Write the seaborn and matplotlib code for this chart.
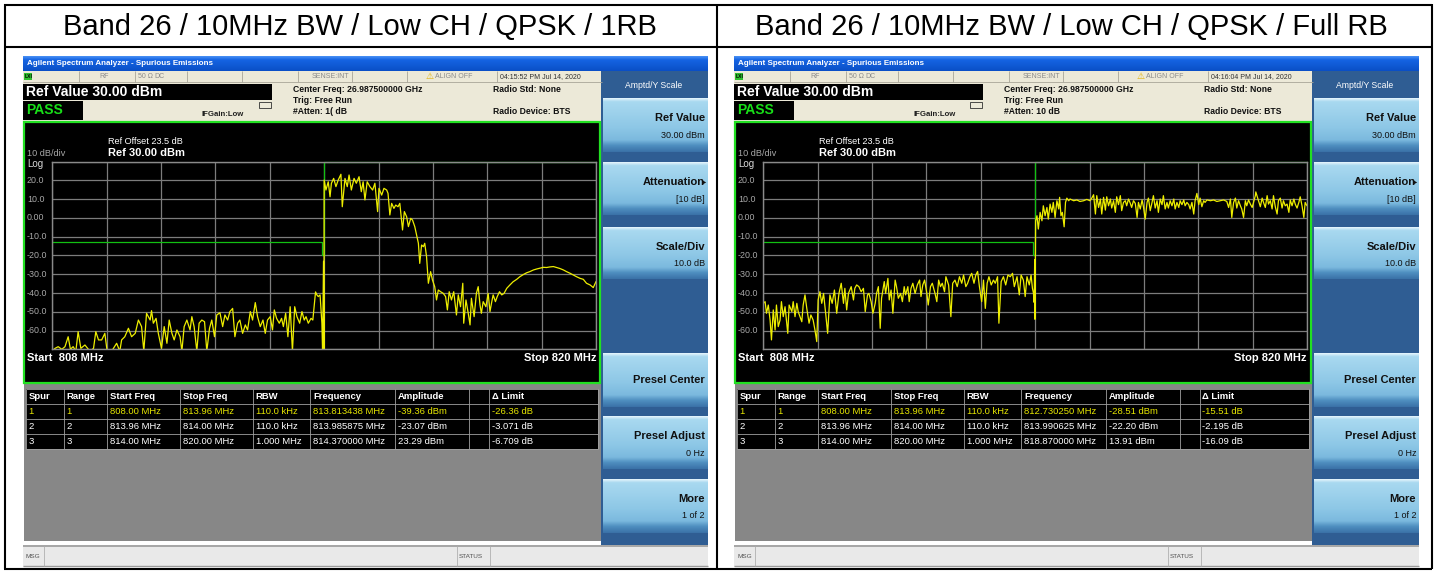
import numpy as np
import matplotlib
matplotlib.use("Agg")
import matplotlib.pyplot as plt
from matplotlib.patches import Rectangle
from matplotlib.colors import to_rgb
import seaborn as sns

sns.set_theme(style="white")
plt.rcParams["font.family"] = ["Liberation Sans", "DejaVu Sans"]

W, H = 1436, 572

# ---------------- data ----------------
titles = ["Band 26 / 10MHz BW / Low CH / QPSK / 1RB",
          "Band 26 / 10MHz BW / Low CH / QPSK / Full RB"]
timestamps = ["04:15:52 PM Jul 14, 2020", "04:16:04 PM Jul 14, 2020"]
atten_text = ["#Atten: 1( dB", "#Atten: 10 dB"]

y_labels = ["20.0", "10.0", "0.00", "-10.0", "-20.0", "-30.0", "-40.0", "-50.0", "-60.0"]
y_label_vals = [20, 10, 0, -10, -20, -30, -40, -50, -60]

# limit line (dBm) of the three spur ranges
limit_f = [808.0, 813.96, 813.96, 814.0, 814.0, 820.0]
limit_db = [-13, -13, -20, -20, 30, 30]

table_header = ["Spur", "Range", "Start Freq", "Stop Freq", "RBW", "Frequency", "Amplitude", "", "\u0394 Limit"]
rows_1rb = [
    ["1", "1", "808.00 MHz", "813.96 MHz", "110.0 kHz", "813.813438 MHz", "-39.36 dBm", "", "-26.36 dB"],
    ["2", "2", "813.96 MHz", "814.00 MHz", "110.0 kHz", "813.985875 MHz", "-23.07 dBm", "", "-3.071 dB"],
    ["3", "3", "814.00 MHz", "820.00 MHz", "1.000 MHz", "814.370000 MHz", "23.29 dBm", "", "-6.709 dB"],
]
rows_full = [
    ["1", "1", "808.00 MHz", "813.96 MHz", "110.0 kHz", "812.730250 MHz", "-28.51 dBm", "", "-15.51 dB"],
    ["2", "2", "813.96 MHz", "814.00 MHz", "110.0 kHz", "813.990625 MHz", "-22.20 dBm", "", "-2.195 dB"],
    ["3", "3", "814.00 MHz", "820.00 MHz", "1.000 MHz", "818.870000 MHz", "13.91 dBm", "", "-16.09 dB"],
]

softkeys = [("Ref Value", "30.00 dBm"), ("Attenuation", "[10 dB]"), ("Scale/Div", "10.0 dB"),
            ("Presel Center", ""), ("Presel Adjust", "0 Hz"), ("More", "1 of 2")]

# trace 1RB, (MHz, dBm)
rb1_range1 = [
    (808.00, -71), (808.06, -69.5), (808.13, -68.6), (808.21, -70), (808.28, -68.6), (808.35, -63.3),
    (808.40, -70), (808.46, -68.6), (808.52, -71), (808.57, -60.6), (808.63, -69.5), (808.72, -67.7),
    (808.83, -71), (808.91, -69.5), (808.96, -60.6), (809.02, -65), (809.09, -65), (809.16, -61.5),
    (809.21, -71), (809.31, -71), (809.42, -66.8), (809.49, -71), (809.53, -65), (809.60, -63.3),
    (809.68, -58.8), (809.75, -63.3), (809.83, -61.5), (809.90, -54.4), (809.97, -57.9), (810.02, -71),
    (810.08, -50.8), (810.16, -54.4), (810.19, -49.4), (810.23, -56.1), (810.29, -53.5), (810.34, -61.5),
    (810.41, -69.5), (810.47, -57.9), (810.53, -66.8), (810.58, -54.4), (810.64, -61.5), (810.69, -65),
    (810.75, -59.7), (810.82, -63.3), (810.86, -71), (810.91, -57.9), (810.97, -54.4), (811.04, -59.7),
    (811.08, -52.6), (811.13, -57.9), (811.19, -71), (811.24, -56.1), (811.30, -54.4), (811.36, -55.3),
    (811.41, -71), (811.47, -58.8), (811.52, -54.4), (811.58, -63.3), (811.63, -51.7), (811.70, -50.5),
    (811.76, -57.9), (811.81, -51.7), (811.87, -54.4), (811.92, -49.9), (811.98, -48.2), (812.03, -63.3),
    (812.09, -56.1), (812.14, -54.4), (812.20, -61.5), (812.26, -57), (812.31, -59.7), (812.37, -49.9),
    (812.42, -54.4), (812.48, -45.1), (812.53, -52.6), (812.59, -57.9), (812.65, -54.4), (812.70, -61.5),
    (812.75, -54.4), (812.81, -52.6), (812.86, -59.7), (812.90, -49), (812.95, -53.5), (813.01, -56.1),
    (813.06, -53.5), (813.10, -57.9), (813.15, -50.8), (813.20, -63.3), (813.25, -47.3), (813.30, -71),
    (813.35, -47.3), (813.40, -52.6), (813.46, -56.1), (813.51, -49.9), (813.56, -54.4), (813.60, -52.6),
    (813.65, -56.1), (813.71, -53.5), (813.75, -54.4), (813.81, -39.4), (813.84, -41), (813.87, -41.9),
    (813.91, -41), (813.95, -56.1),
]
rb1_range2 = [(813.965, -71), (813.986, -23.1), (813.995, -71)]
rb1_range3 = [
    (814.00, 20.2), (814.04, 14.9), (814.09, 19.3), (814.13, 11.3), (814.16, 18.5), (814.21, 21.1),
    (814.26, 16.7), (814.31, 20.2), (814.37, 23.3), (814.40, 6.0), (814.46, 21.1), (814.51, 16.7),
    (814.55, 22.9), (814.60, 14.9), (814.66, 21.1), (814.71, 18.5), (814.77, 22.0), (814.82, 14.0),
    (814.86, 19.3), (814.90, 9.6), (814.95, 19.3), (815.01, 16.7), (815.07, 14.9), (815.12, 18.5),
    (815.18, 3.4), (815.21, 15.8), (815.27, 12.2), (815.32, 15.8), (815.38, 14.9), (815.41, 13.1),
    (815.45, 1.6), (815.49, 7.8), (815.54, 5.1), (815.58, 6.9), (815.63, 6.0), (815.67, 7.8),
    (815.73, -6.4), (815.77, 3.4), (815.82, 0.7), (815.86, -4.6), (815.91, -0.2), (815.95, -1.1),
    (816.00, -4.6), (816.04, -9.1), (816.08, -13.5), (816.11, -24.2), (816.15, -14.4), (816.19, -15.3),
    (816.22, -13.5), (816.26, -20.6), (816.30, -34.8), (816.35, -28.6), (816.39, -33.0), (816.44, -36.6),
    (816.48, -43.7), (816.52, -38.4), (816.57, -39.3), (816.63, -40.2), (816.68, -41.9), (816.72, -49.0),
    (816.76, -39.3), (816.81, -43.7), (816.86, -39.3), (816.92, -51.7), (816.96, -41.0), (817.01, -47.3),
    (817.06, -34.8), (817.08, -56.1), (817.13, -43.7), (817.18, -50.8), (817.22, -57.0), (817.25, -42.8),
    (817.31, -52.6), (817.36, -40.2), (817.40, -36.6), (817.44, -46.4), (817.47, -50.8), (817.51, -44.6),
    (817.57, -47.3), (817.62, -40.2), (817.66, -49.9), (817.70, -44.6), (817.73, -41.0), (817.78, -44.6),
    (817.82, -41.9), (817.87, -39.3), (817.92, -41.0), (817.97, -40.2), (818.03, -37.5), (818.10, -35.7),
    (818.17, -34.0), (818.25, -32.7), (818.32, -31.3), (818.40, -30.1), (818.47, -29.2), (818.54, -28.6),
    (818.62, -27.7), (818.69, -27.2), (818.76, -26.8), (818.84, -26.3), (818.91, -26.4), (818.98, -26.1),
    (819.06, -25.9), (819.13, -26.4), (819.20, -26.9), (819.28, -27.7), (819.35, -28.6), (819.43, -29.5),
    (819.50, -30.4), (819.57, -31.3), (819.65, -32.2), (819.72, -32.7), (819.79, -34.8), (819.87, -35.7),
    (819.94, -37.1), (820.00, -33.9),
]

# trace Full RB
full_range1 = [
    (808.00, -45.5), (808.04, -44.6), (808.07, -50.8), (808.11, -46.4), (808.15, -54.4), (808.18, -65.0),
    (808.22, -49.0), (808.26, -59.7), (808.29, -46.4), (808.33, -57.9), (808.37, -54.4), (808.40, -44.6),
    (808.44, -52.6), (808.48, -47.3), (808.54, -61.5), (808.57, -46.4), (808.63, -49.9), (808.66, -44.6),
    (808.70, -52.6), (808.74, -45.5), (808.77, -49.9), (808.85, -55.3), (808.88, -46.4), (808.92, -41.0),
    (808.96, -48.2), (809.01, -56.1), (809.05, -51.7), (809.10, -54.4), (809.14, -59.7), (809.18, -65.9),
    (809.21, -43.7), (809.25, -39.3), (809.29, -45.5), (809.33, -40.2), (809.38, -51.7), (809.42, -61.5),
    (809.47, -41.0), (809.52, -45.5), (809.57, -38.4), (809.62, -50.8), (809.67, -40.2), (809.72, -34.8),
    (809.77, -45.5), (809.80, -37.5), (809.84, -49.0), (809.88, -40.2), (809.94, -36.6), (809.99, -43.7),
    (810.02, -37.5), (810.06, -35.7), (810.11, -36.6), (810.16, -39.3), (810.21, -37.5), (810.25, -49.9),
    (810.30, -41.0), (810.33, -40.2), (810.38, -44.6), (810.42, -50.8), (810.47, -45.5), (810.50, -40.2),
    (810.54, -36.6), (810.58, -58.8), (810.61, -42.8), (810.67, -33.9), (810.70, -40.2), (810.75, -32.2),
    (810.78, -43.7), (810.82, -38.4), (810.86, -50.8), (810.91, -33.1), (810.94, -36.6), (810.98, -42.8),
    (811.03, -40.2), (811.07, -44.6), (811.11, -36.6), (811.14, -41.0), (811.19, -36.6), (811.22, -44.6),
    (811.26, -37.5), (811.30, -34.8), (811.35, -40.2), (811.40, -35.7), (811.45, -33.1), (811.48, -41.9),
    (811.52, -35.7), (811.56, -33.1), (811.61, -40.2), (811.64, -46.4), (811.69, -36.6), (811.73, -34.8),
    (811.79, -40.2), (811.83, -44.6), (811.87, -33.1), (811.91, -36.6), (811.95, -34.8), (812.00, -39.3),
    (812.03, -31.3), (812.09, -35.7), (812.14, -52.6), (812.18, -34.8), (812.23, -33.1), (812.28, -36.6),
    (812.33, -31.3), (812.38, -34.8), (812.42, -30.4), (812.47, -36.6), (812.51, -34.8), (812.56, -31.3),
    (812.60, -29.5), (812.65, -34.8), (812.69, -30.4), (812.73, -28.5), (812.77, -36.6), (812.82, -44.6),
    (812.86, -33.1), (812.90, -48.2), (812.94, -34.8), (812.98, -31.3), (813.03, -35.7), (813.08, -33.1),
    (813.12, -34.8), (813.17, -31.3), (813.20, -56.1), (813.25, -33.9), (813.30, -31.3), (813.35, -35.7),
    (813.40, -30.4), (813.45, -31.3), (813.50, -29.5), (813.54, -36.6), (813.60, -31.3), (813.65, -41.0),
    (813.69, -30.4), (813.74, -33.1), (813.78, -41.9), (813.82, -31.3), (813.87, -35.7), (813.91, -30.4),
    (813.94, -37.5),
]
full_range2 = [(813.962, -40.0), (813.978, -45.0), (813.990, -22.2), (813.996, -54.0)]
full_range3 = [
    (814.01, -1.5), (814.04, 1.2), (814.07, -5.9), (814.11, 3.0), (814.15, -1.5), (814.18, 6.5),
    (814.22, 1.2), (814.26, 5.6), (814.29, -0.6), (814.33, 7.4), (814.37, 3.0), (814.40, 8.3),
    (814.44, 0.3), (814.48, 9.2), (814.52, 4.8), (814.54, 11.0), (814.57, 1.2), (814.60, 3.0),
    (814.64, -4.7), (814.67, 8.3), (814.70, 10.6), (814.74, 9.2), (814.77, 10.1), (814.85, 9.2),
    (814.92, 9.6), (814.99, 8.8), (815.07, 9.2), (815.14, 9.9), (815.21, 9.2), (815.25, 10.6),
    (815.29, 12.4), (815.33, 2.1), (815.36, 11.9), (815.40, 5.6), (815.44, 10.1), (815.47, 2.1),
    (815.51, 11.0), (815.55, 4.2), (815.58, 11.3), (815.62, 6.5), (815.66, 10.1), (815.69, 5.3),
    (815.73, 9.2), (815.77, 3.0), (815.80, 11.3), (815.84, 7.1), (815.88, 11.9), (815.91, 3.9),
    (815.95, 8.3), (815.99, 9.2), (816.02, 6.5), (816.06, 10.1), (816.10, 7.8), (816.13, 5.6),
    (816.17, 9.2), (816.21, 7.8), (816.25, 0.3), (816.28, 8.3), (816.32, 4.8), (816.36, 9.6),
    (816.39, 6.0), (816.43, -0.6), (816.47, 8.3), (816.50, 10.6), (816.54, 3.9), (816.58, 8.3),
    (816.61, 11.9), (816.65, 5.3), (816.69, 9.2), (816.72, 3.0), (816.76, 10.1), (816.80, 7.1),
    (816.83, 11.9), (816.87, 4.8), (816.91, 8.3), (816.94, 5.3), (816.98, 9.2), (817.02, 6.5),
    (817.06, 10.1), (817.09, 4.8), (817.13, 8.3), (817.17, 5.6), (817.20, 9.2), (817.24, 7.1),
    (817.28, 9.6), (817.31, 6.5), (817.35, 8.3), (817.39, 7.1), (817.42, 4.8), (817.46, 8.3),
    (817.50, 2.1), (817.53, 9.2), (817.57, 13.1), (817.61, 7.1), (817.64, 10.6), (817.68, 6.0),
    (817.72, 9.2), (817.75, 8.3), (817.79, 9.6), (817.87, 9.2), (817.94, 9.6), (818.01, 8.8),
    (818.09, 9.2), (818.16, 9.6), (818.23, 8.8), (818.27, 5.6), (818.31, 10.1), (818.34, 0.3),
    (818.38, 8.3), (818.42, 10.6), (818.45, 5.3), (818.49, 9.2), (818.53, 6.5), (818.56, 4.8),
    (818.60, 0.3), (818.64, 9.2), (818.67, 6.5), (818.71, 9.6), (818.75, 7.4), (818.79, 5.6),
    (818.82, 8.3), (818.86, 11.9), (818.87, 13.9), (818.93, 9.2), (818.97, 6.0), (819.01, 10.6),
    (819.04, 8.3), (819.08, 5.6), (819.12, 11.9), (819.15, 7.4), (819.19, 9.2), (819.23, 4.8),
    (819.26, 11.9), (819.30, 6.0), (819.34, 2.1), (819.37, 9.2), (819.41, 10.6), (819.45, 5.3),
    (819.48, 9.2), (819.52, 6.5), (819.56, 7.4), (819.60, 3.0), (819.63, 9.6), (819.67, 6.5),
    (819.71, 10.1), (819.74, 7.4), (819.78, 5.3), (819.82, 8.3), (819.85, 11.3), (819.89, 6.5),
    (819.93, 0.3), (819.96, 8.3), (820.00, 6.5),
]

traces = [rb1_range1 + rb1_range2 + rb1_range3,
          full_range1 + full_range2 + full_range3]
tables = [rows_1rb, rows_full]

# ---------------- canvas ----------------
fig = plt.figure(figsize=(W / 100, H / 100), dpi=100)
fig.patch.set_facecolor("white")
cv = fig.add_axes([0, 0, 1, 1])
cv.set_xlim(0, W)
cv.set_ylim(H, 0)
cv.set_autoscale_on(False)
cv.axis("off")


def box(x, y, w, h, fc, ec="none", lw=0.0, z=1):
    cv.add_patch(Rectangle((x, y), w, h, facecolor=fc, edgecolor=ec, linewidth=lw, zorder=z))


def txt(x, y, s, size=6.5, color="black", weight="normal", ha="left", z=6):
    cv.text(x, y, s, fontsize=size, color=color, fontweight=weight, ha=ha, va="center", zorder=z)


def grad(x, y, w, h, stops, z=1):
    pos = [p for p, c in stops]
    cols = np.array([to_rgb(c) for p, c in stops])
    t = np.linspace(0, 1, 80)
    arr = np.stack([np.interp(t, pos, cols[:, k]) for k in range(3)], axis=1)[:, None, :]
    cv.imshow(arr, extent=(x, x + w, y + h, y), aspect="auto", interpolation="bilinear", zorder=z)


def vline(x, y0, y1, color, lw=0.7, z=3):
    cv.plot([x, x], [y0, y1], color=color, lw=lw, zorder=z, solid_capstyle="butt")


def hline(y, x0, x1, color, lw=0.7, z=3):
    cv.plot([x0, x1], [y, y], color=color, lw=lw, zorder=z, solid_capstyle="butt")


# outer table with title row
for y in [4.5, 47, 569]:
    hline(y, 4, 1432, "black", lw=1.5, z=10)
for x in [4.5, 717, 1431.5]:
    vline(x, 4, 569, "black", lw=1.5, z=10)

button_rows = [(98, 152), (162, 215), (227, 279), (353, 407), (416, 469), (479, 533)]
col_x = [2.5, 40.5, 84, 157, 229.6, 287, 372, 446, 465.5, 575]
status_seps = [56, 112, 164, 219, 275, 329, 384, 474]

TOP, BOT = 161.7, 349.3   # graticule in pixels


def draw_panel(k, ox):
    X = lambda rx: ox + rx
    txt(ox + 337, 27, titles[k], size=21, ha="center")

    # window title bar
    grad(X(0), 56, 685, 15, [(0, "#4b92f5"), (0.25, "#1564e3"), (1, "#0a4fc6")])
    txt(X(4), 63.5, "Agilent Spectrum Analyzer - Spurious Emissions", 5.8, "white", "bold")

    # status strip
    box(X(0), 71, 579, 11, "#ece9d8", z=1)
    for s in status_seps:
        vline(X(s), 71, 82, "#a8a598", lw=0.6)
    hline(82, X(0), X(579), "#a8a598", lw=0.6)
    box(X(1), 72.5, 8, 7, "#2fbf2f", z=2)
    txt(X(2), 76, "LXI", 3.6, "black", "bold")
    txt(X(81), 76.5, "RF", 5, "#8a8a8a", ha="center")
    txt(X(115), 76.5, "50 \u03a9", 5, "#8a8a8a")
    txt(X(131), 76.5, "DC", 5, "#8a8a8a")
    txt(X(289), 76.5, "SENSE:INT", 5, "#8a8a8a")
    txt(X(403), 76.3, "\u26a0", 6.5, "#e0b000")
    txt(X(412), 76.5, "ALIGN OFF", 5, "#8a8a8a")
    txt(X(477), 76.5, timestamps[k], 5, "#303030")

    # info rows
    box(X(0), 82, 579, 39, "#ece9d8", z=1)
    box(X(0), 84, 249, 16, "black", z=2)
    txt(X(3), 92.3, "Ref Value 30.00 dBm", 10, "white", "bold")
    box(X(0), 101, 60, 19, "black", z=2)
    txt(X(3), 110.5, "PASS", 10, "#18e018", "bold")
    txt(X(179), 115, "IFGain:Low", 5.6, "#202020", "bold")
    box(X(236), 101.5, 12, 6, "none", ec="#303030", lw=0.6, z=2)
    txt(X(270), 89, "Center Freq: 26.987500000 GHz", 6.2, "#101010", "bold")
    txt(X(270), 100.5, "Trig: Free Run", 6.2, "#101010", "bold")
    txt(X(270), 112, atten_text[k], 6.2, "#101010", "bold")
    txt(X(470), 89, "Radio Std: None", 6.2, "#101010", "bold")
    txt(X(470), 112, "Radio Device: BTS", 6.2, "#101010", "bold")

    # right soft-key menu
    box(X(578), 71, 107, 474, "#2f5d93", z=1)
    txt(X(631), 85, "Amptd/Y Scale", 6.2, "white", ha="center")
    for (y0, y1), (lab, val) in zip(button_rows, softkeys):
        grad(X(580), y0, 105, y1 - y0,
             [(0, "#e4f4fc"), (0.06, "#a9d9f0"), (0.55, "#8dc7e6"), (0.78, "#7bb9de"),
              (0.88, "#4f8fc0"), (1, "#3b72a8")], z=2)
        if val:
            txt(X(682), y0 + 20, lab, 8, "#111111", "bold", ha="right")
            txt(X(682), y0 + 37, val, 6.5, "#111111", ha="right")
        else:
            txt(X(682), y0 + 27, lab, 8, "#111111", "bold", ha="right")
    txt(X(683.5), button_rows[1][0] + 21, "\u25b6", 4, "#111111", ha="right")

    # trace window
    box(X(1), 122, 576, 261, "black", ec="#22e022", lw=1.6, z=2)
    txt(X(85), 141, "Ref Offset 23.5 dB", 6.6, "white")
    txt(X(85), 153, "Ref 30.00 dBm", 8, "white", "bold")
    txt(X(4), 153.5, "10 dB/div", 6.6, "#a8a8a8")
    txt(X(4), 164, "Log", 7, "#d8d8d8")
    for lab, v in zip(y_labels, y_label_vals):
        yp = TOP + (30 - v) / 100 * (BOT - TOP)
        txt(X(4), yp, lab, 6.4, "#a8a8a8")
    txt(X(4), 358, "Start  808 MHz", 8, "white", "bold")
    txt(X(573), 358, "Stop 820 MHz", 8, "white", "bold", ha="right")

    # spur table
    box(X(1), 384, 577, 157, "#878787", z=1)
    for r in range(4):
        y0 = 389 + 15 * r
        box(X(col_x[0]), y0, col_x[-1] - col_x[0], 14.5, "black", z=2)
        row = table_header if r == 0 else tables[k][r - 1]
        color = "white" if r != 1 else "#e6e600"
        weight = "bold" if r == 0 else "normal"
        for c, s in enumerate(row):
            txt(X(col_x[c] + 3), y0 + 7.5, s, 6.8, color, weight)
    for cx in col_x:
        vline(X(cx), 389, 449, "#a0a0a0", lw=0.6)
    for r in range(5):
        hline(389 + 15 * r, X(col_x[0]), X(col_x[-1]), "#a0a0a0", lw=0.6)

    # message bar
    box(X(0), 545, 685, 22, "#e9e9e9", z=1)
    hline(546, X(0), X(685), "#9a9a9a", lw=1.2)
    hline(566, X(0), X(685), "#9a9a9a", lw=1.0)
    for s in [21, 434, 467]:
        vline(X(s), 546, 566, "#b0b0b0", lw=0.6)
    txt(X(3), 556, "MSG", 4.6, "#505050")
    txt(X(436), 556, "STATUS", 4.6, "#505050")

    # graticule with the seaborn trace
    left, right = ox + 29.3, ox + 573
    ga = fig.add_axes([left / W, 1 - BOT / H, (right - left) / W, (BOT - TOP) / H])
    ga.set_facecolor("black")
    f, db = np.array(traces[k]).T
    sns.lineplot(x=f, y=db, ax=ga, color="#eeee00", linewidth=0.9,
                 estimator=None, sort=False, legend=False)
    ga.plot(limit_f, limit_db, color="#12c012", lw=0.9, clip_on=False, zorder=1)
    ga.set_xlim(808, 820)
    ga.set_ylim(-70, 30)
    ga.set_xticks([808 + 1.2 * i for i in range(11)])
    ga.set_yticks(list(range(-70, 31, 10)))
    ga.grid(True, color="#7c7c7c", lw=0.9)
    ga.tick_params(length=0, labelbottom=False, labelleft=False)
    ga.set_xlabel("")
    ga.set_ylabel("")
    for sp in ga.spines.values():
        sp.set_color("#8a8a8a")
        sp.set_linewidth(1.0)


draw_panel(0, 23)
draw_panel(1, 734)

cv.set_xlim(0, W)
cv.set_ylim(H, 0)
fig.savefig("out.png", dpi=100)
